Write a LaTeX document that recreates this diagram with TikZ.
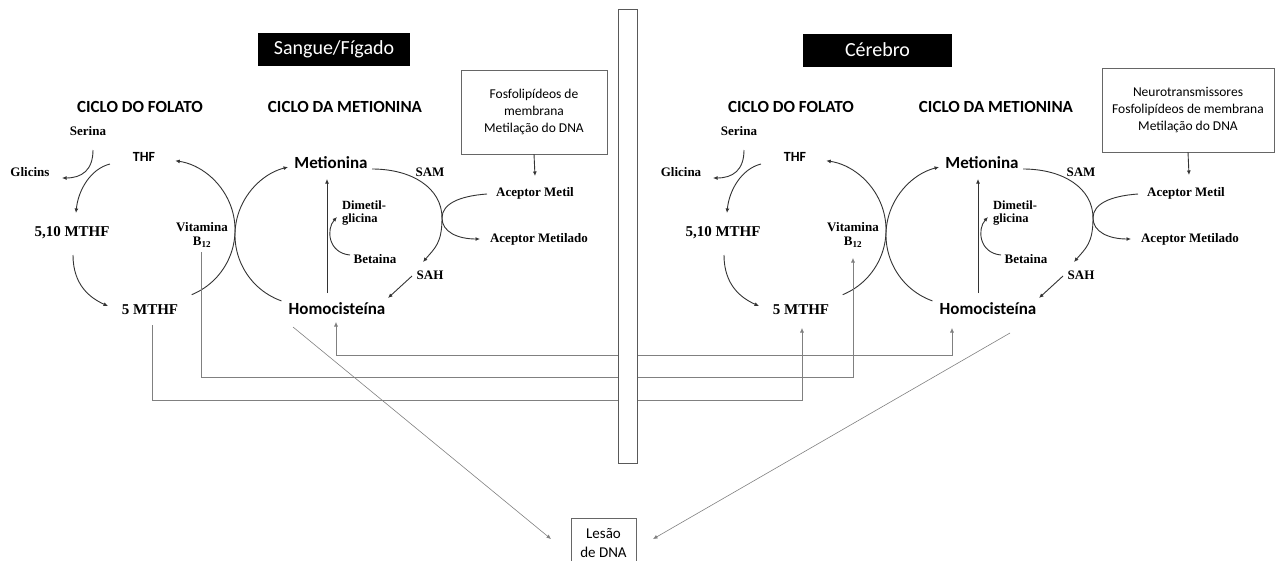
\documentclass[tikz,border=0pt]{standalone}
\usepackage{fontspec}
\setmainfont{Liberation Serif}
\newfontfamily\calibri{Carlito}
\usetikzlibrary{arrows.meta}
\tikzstyle{every node}=[inner sep=1pt]
\tikzstyle{lbl}=[font=\bfseries\fontsize{13}{14}\selectfont]
\tikzstyle{mthf}=[font=\bfseries\fontsize{15}{17}\selectfont]
\tikzstyle{head}=[font=\calibri\bfseries\fontsize{17}{20}\selectfont]
\tikzstyle{thf}=[font=\calibri\bfseries\fontsize{14}{16}\selectfont]
\tikzstyle{tag}=[fill=black, text=white, font=\calibri\fontsize{20}{24}\selectfont, minimum height=33]
\tikzstyle{info}=[draw=black!60, font=\calibri\fontsize{13.5}{17}\selectfont, align=center, minimum height=84]
\tikzstyle{cyc}=[black!80, line width=0.9pt, ->]
\tikzstyle{link}=[black!50, line width=0.6pt]

\begin{document}
\begin{tikzpicture}[x=1pt, y=-1pt, >={Latex[length=4.5pt,width=4pt]}]
\useasboundingbox (0,0) rectangle (1275,560);
\clip (0,0) rectangle (1275,560);
% Tissue labels
    \node[tag, minimum width=152] (tagL) at (334,49.5) {Sangue/Fígado};
    \node[tag, minimum width=149] (tagR) at (877.5,50) {Cérebro};
% Left: folate cycle
    \node[head] (folL) at (140,107) {CICLO DO FOLATO};
    \node[lbl] (serL) at (88,131) {Serina};
    \node[lbl] (gliL) at (30,172) {Glicins};
    \node[thf] (thfL) at (144,157) {THF};
    \node[mthf] (m510L) at (72,233) {5,10 MTHF};
    \node[mthf] (m5L) at (150,310) {5 MTHF};
    \node[lbl, align=center] (vitL) at (202,235) {Vitamina\\B\textsubscript{12}};
    \draw[cyc] ([shift={(5,19)}]serL.center) .. controls +(0,20) and +(20,0) .. ([shift={(32,6)}]gliL.center);
    \draw[cyc] ([shift={(-34,7)}]thfL.center) .. controls +(-20,5) and +(2,-22) .. ([shift={(4,-20)}]m510L.center);
    \draw[cyc] ([shift={(1,22)}]m510L.center) .. controls +(0,30) and +(-18,-8) .. ([shift={(-42,-4)}]m5L.center);
    \draw[cyc] ([shift={(41.7,-15.3)}]m5L.center) arc[start angle=67.6, end angle=-81.6, radius=70];
% Left: methionine cycle
    \node[head] (metcL) at (345,107) {CICLO DA METIONINA};
    \node[mthf, font=\calibri\bfseries\fontsize{17}{20}\selectfont] (metL) at (331,163) {Metionina};
    \node[mthf, font=\calibri\bfseries\fontsize{17}{20}\selectfont] (homL) at (337,309) {Homocisteína};
    \node[lbl] (samL) at (430,172) {SAM};
    \node[lbl] (sahL) at (430,275) {SAH};
    \node[lbl] (betL) at (375,259) {Betaina};
    \node[lbl, align=left, anchor=west, font=\bfseries\fontsize{12.5}{13}\selectfont] (dimL) at (341,213) {Dimetil-\\glicina};
    \node[info, minimum width=146] (boxL) at (534,112) {Fosfolipídeos de\\membrana\\Metilação do DNA};
    \node[lbl] (acL) at (535,193) {Aceptor Metil};
    \node[lbl] (acmL) at (539,239) {Aceptor Metilado};
    \coordinate (turnL) at (442,218);
    \draw[cyc] ([shift={(-55.6,-8.1)}]homL.center) arc[start angle=109.7, end angle=256, radius=70];
    \draw[cyc] ([shift={(41,6)}]metL.center) .. controls +(40,0) and +(0,-30) .. (turnL) .. controls +(0,25) and +(12,-14) .. ([shift={(-7,-13)}]sahL.center);
    \draw[cyc] ([shift={(-18,1)}]sahL.center) -- ([shift={(51,-11)}]homL.center);
    \draw[cyc] ([shift={(-10,-16)}]homL.center) -- ([shift={(-4,16)}]metL.center);
    \draw[cyc] ([shift={(-25,-4)}]betL.center) .. controls +(-22,-2) and +(-11,12) .. ([shift={(-4,4)}]dimL.west);
    \draw[cyc] ([shift={(-48,1)}]acL.center) .. controls +(-28,2) and +(0,-14) .. (turnL) .. controls +(0,14) and +(-22,0) .. ([shift={(-59,0)}]acmL.center);
    \draw[cyc] (boxL.south) -- ([shift={(0,-17)}]acL.center);
% Right: folate cycle
    \node[head] (folR) at (791,107) {CICLO DO FOLATO};
    \node[lbl] (serR) at (739,131) {Serina};
    \node[lbl] (gliR) at (681,172) {Glicina};
    \node[thf] (thfR) at (795,157) {THF};
    \node[mthf] (m510R) at (723,233) {5,10 MTHF};
    \node[mthf] (m5R) at (801,310) {5 MTHF};
    \node[lbl, align=center] (vitR) at (853,235) {Vitamina\\B\textsubscript{12}};
    \draw[cyc] ([shift={(5,19)}]serR.center) .. controls +(0,20) and +(20,0) .. ([shift={(32,6)}]gliR.center);
    \draw[cyc] ([shift={(-34,7)}]thfR.center) .. controls +(-20,5) and +(2,-22) .. ([shift={(4,-20)}]m510R.center);
    \draw[cyc] ([shift={(1,22)}]m510R.center) .. controls +(0,30) and +(-18,-8) .. ([shift={(-42,-4)}]m5R.center);
    \draw[cyc] ([shift={(41.7,-15.3)}]m5R.center) arc[start angle=67.6, end angle=-81.6, radius=70];
% Right: methionine cycle
    \node[head] (metcR) at (996,107) {CICLO DA METIONINA};
    \node[mthf, font=\calibri\bfseries\fontsize{17}{20}\selectfont] (metR) at (982,163) {Metionina};
    \node[mthf, font=\calibri\bfseries\fontsize{17}{20}\selectfont] (homR) at (988,309) {Homocisteína};
    \node[lbl] (samR) at (1081,172) {SAM};
    \node[lbl] (sahR) at (1081,275) {SAH};
    \node[lbl] (betR) at (1026,259) {Betaina};
    \node[lbl, align=left, anchor=west, font=\bfseries\fontsize{12.5}{13}\selectfont] (dimR) at (992,213) {Dimetil-\\glicina};
    \node[info, minimum width=172] (boxR) at (1188,110) {Neurotransmissores\\Fosfolipídeos de membrana\\Metilação do DNA};
    \node[lbl] (acR) at (1186,193) {Aceptor Metil};
    \node[lbl] (acmR) at (1190,239) {Aceptor Metilado};
    \coordinate (turnR) at (1093,218);
    \draw[cyc] ([shift={(-55.6,-8.1)}]homR.center) arc[start angle=109.7, end angle=256, radius=70];
    \draw[cyc] ([shift={(41,6)}]metR.center) .. controls +(40,0) and +(0,-30) .. (turnR) .. controls +(0,25) and +(12,-14) .. ([shift={(-7,-13)}]sahR.center);
    \draw[cyc] ([shift={(-18,1)}]sahR.center) -- ([shift={(51,-11)}]homR.center);
    \draw[cyc] ([shift={(-10,-16)}]homR.center) -- ([shift={(-4,16)}]metR.center);
    \draw[cyc] ([shift={(-25,-4)}]betR.center) .. controls +(-22,-2) and +(-11,12) .. ([shift={(-4,4)}]dimR.west);
    \draw[cyc] ([shift={(-48,1)}]acR.center) .. controls +(-28,2) and +(0,-14) .. (turnR) .. controls +(0,14) and +(-22,0) .. ([shift={(-59,0)}]acmR.center);
    \draw[cyc] (boxR.south) -- ([shift={(3,-18)}]acR.center);
% DNA damage
    \node[draw=black!60, font=\calibri\fontsize{15}{19}\selectfont, align=center, minimum width=65, minimum height=50] (lesao) at (603.5,543) {Lesão\\de DNA};
% Links between tissues
    \draw[link, <->] ([shift={(-1,13)}]homL.center) -- ++(0,33) -| ([shift={(-36,19)}]homR.center);
    \draw[link, ->] ([shift={(-1,17)}]vitL.center) -- ++(0,125) -| ([shift={(0,23)}]vitR.center);
    \draw[link, ->] ([shift={(2,15)}]m5L.center) -- ++(0,75) -| ([shift={(1,18)}]m5R.center);
    \draw[link, ->] ([shift={(-44,18)}]homL.center) -- ([shift={(-52.5,-4)}]lesao.center);
    \draw[link, ->] ([shift={(22,24)}]homR.center) -- ([shift={(49.5,-4)}]lesao.center);
% Barrier
    \draw[black!65, line width=0.8pt, fill=white] (618,9) rectangle (637,463);
\end{tikzpicture}
\end{document}
